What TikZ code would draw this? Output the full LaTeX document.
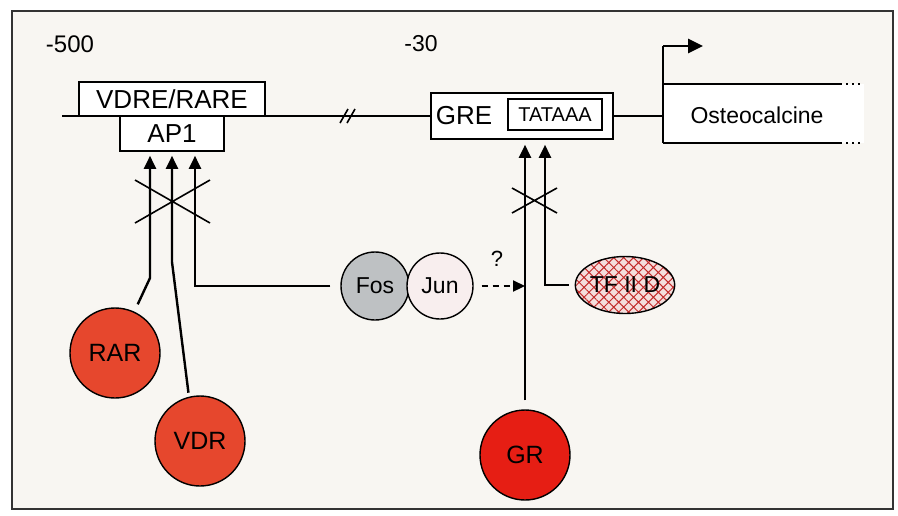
\documentclass[tikz,border=0pt]{standalone}
\usepackage{fontspec}
\setmainfont{Liberation Sans}
\usetikzlibrary{arrows.meta,patterns.meta,shapes.geometric}
\definecolor{achter}{HTML}{F8F6F2}
\definecolor{oranjerood}{HTML}{E6472D}
\definecolor{rood}{HTML}{E61E14}
\definecolor{fosgrijs}{HTML}{BEC1C3}
\definecolor{junroze}{HTML}{F8EEEE}
\definecolor{tfroze}{HTML}{F4DEDC}
\definecolor{arcering}{HTML}{C22A2A}
\begin{document}
\begin{tikzpicture}[x=0.5pt,y=-0.5pt,
    box/.style={draw, line width=0.8pt, fill=white, inner sep=0pt},
    pijl/.style={line width=1.2pt, -{Triangle[length=6.5pt,width=6pt]}},
    lijn/.style={line width=1.1pt},
    rec/.style={circle, draw, line width=0.7pt, minimum size=45pt, inner sep=0pt,
        font=\fontsize{12.5}{14}\selectfont}]
    \useasboundingbox (0,0) rectangle (898,515);
    \fill[white] (0,0) rectangle (898,515);
    \draw[fill=achter, draw=black!80, line width=0.7pt] (12,11) rectangle (893,509);

    % Posities
    \node[font=\fontsize{12}{14}\selectfont] (pos500) at (70,44) {-500};
    \node[font=\fontsize{11.5}{14}\selectfont] (pos30) at (421,44) {-30};

    % DNA
    \draw[lijn] (62,116) -- (431,116);
    \draw[line width=0.8pt] (340,123) -- (348,109) (347,123) -- (355,109);
    \node[box, minimum width=93pt, minimum height=17pt, font=\fontsize{13}{14}\selectfont]
        (vdre) at (172,99) {VDRE/RARE};
    \node[box, minimum width=52pt, minimum height=17.5pt, font=\fontsize{13}{14}\selectfont]
        (ap1) at (172,133.5) {AP1};
    \node[box, minimum width=91pt, minimum height=23pt] (gre) at (522,116) {};
    \node[font=\fontsize{13}{14}\selectfont] (gretekst) at (464,116) {GRE};
    \node[box, line width=0.7pt, minimum width=47pt, minimum height=15.5pt,
        font=\fontsize{10}{12}\selectfont] (tata) at (555,114.5) {TATAAA};

    % Gen
    \fill[white] (663,84) rectangle (864,143);
    \draw[lijn] (gre.east) -- ++(50,0);
    \draw[lijn] (663,143) -- (663,46);
    \draw[line width=1.3pt, -{Triangle[length=7.5pt,width=7pt]}] (663,46) -- (703,46);
    \draw[lijn] (663,84) -- (840,84) (663,143) -- (840,143);
    \draw[line width=1pt, dotted] (840,84) -- (862,84) (840,143) -- (862,143);
    \node[font=\fontsize{11.5}{14}\selectfont] (osteo) at (757,115) {Osteocalcine};

    % Receptoren
    \node[rec, fill=oranjerood] (rar) at (115,353) {RAR};
    \node[rec, fill=oranjerood] (vdr) at (200,441) {VDR};
    \node[rec, fill=rood] (gr) at (525,455) {GR};
    \node[circle, draw, line width=0.7pt, fill=fosgrijs, minimum size=34pt, inner sep=0pt,
        font=\fontsize{11.5}{14}\selectfont] (fos) at (375,286) {Fos};
    \node[circle, draw, line width=0.7pt, fill=junroze, minimum size=33pt, inner sep=0pt,
        font=\fontsize{11.5}{14}\selectfont] (jun) at (440,286) {Jun};
    \node[ellipse, draw, line width=0.7pt, minimum width=46pt, minimum height=28.5pt,
        inner sep=0pt, preaction={fill=tfroze},
        pattern={Hatch[angle=45,distance=3.5pt,line width=0.5pt]}, pattern color=arcering,
        font=\fontsize{11.5}{14}\selectfont] (tf) at (625,285) {TF II D};

    % Pijlen naar AP1
    \draw[pijl, shorten <=4pt, shorten >=2pt] (rar.65) -- (150,278) -- ([xshift=-11pt]ap1.south);
    \draw[pijl, shorten <=2pt, shorten >=2pt] (vdr.104) -- (172,262) -- (ap1.south);
    \draw[pijl, shorten <=5pt, shorten >=2pt] (fos.west) -- (195,286) -- ([xshift=11.5pt]ap1.south);
    \draw[line width=0.8pt] (135,180) -- (210,223) (135,223) -- (210,180);

    % Pijlen naar GRE
    \draw[pijl, shorten <=4.5pt, shorten >=2.5pt] (gr.north) -- ([xshift=1.5pt]gre.south);
    \draw[pijl, shorten <=3pt, shorten >=2.5pt] (tf.west) -- (545,285) -- ([xshift=11.5pt]gre.south);
    \draw[line width=0.8pt] (512,188) -- (557,213) (512,213) -- (557,188);

    % Fos/Jun naar GR?
    \draw[line width=1.1pt, dash pattern=on 3pt off 2.5pt, -{Triangle[length=6pt,width=5.5pt]},
        shorten <=4pt] (jun.east) -- (jun.east -| gr.north);
    \node[font=\fontsize{11}{13}\selectfont] (vraag) at (497,259) {?};
\end{tikzpicture}
\end{document}
